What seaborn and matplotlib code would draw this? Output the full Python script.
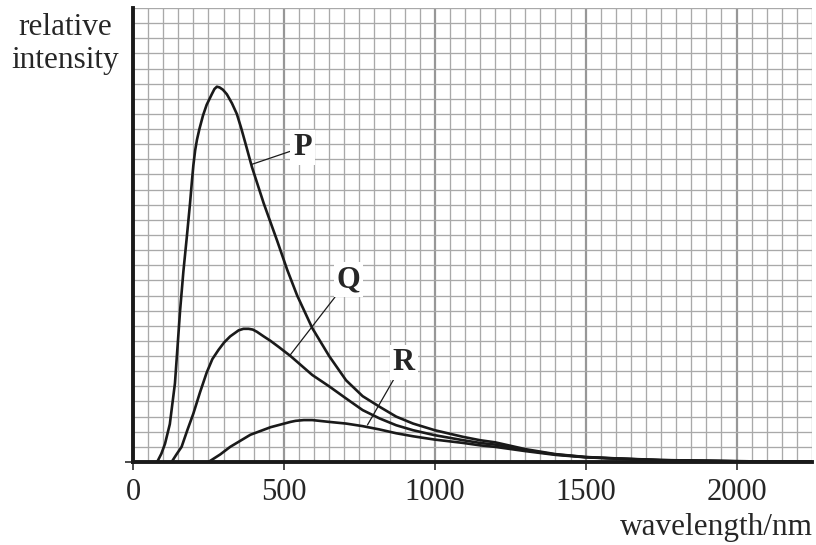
import matplotlib
matplotlib.use('Agg')
import numpy as np
import pandas as pd
import seaborn as sns
from matplotlib import pyplot as plt
from matplotlib.ticker import MultipleLocator

# %% Data (wavelength in nm, relative intensity in grid units)
P_wl = [80, 94, 106, 122, 139, 156, 167, 178, 189, 195, 200, 206, 212, 220, 232,
        244, 261, 270, 278, 287, 298, 311, 328, 344, 358, 372, 394, 433, 478,
        511, 544, 594, 650, 706, 761, 817, 872, 928, 1000, 1094, 1150, 1200,
        1300, 1400, 1500, 1600, 1750, 2000, 2250]
P_int = [0, 0.055, 0.12, 0.25, 0.52, 1.0, 1.26, 1.48, 1.71, 1.85, 1.96, 2.06,
         2.13, 2.2, 2.29, 2.36, 2.43, 2.465, 2.48, 2.475, 2.46, 2.43, 2.37, 2.3,
         2.21, 2.11, 1.95, 1.71, 1.46, 1.27, 1.10, 0.885, 0.70, 0.54, 0.435,
         0.365, 0.30, 0.254, 0.21, 0.166, 0.144, 0.13, 0.085, 0.052, 0.033,
         0.024, 0.013, 0.005, 0.002]

Q_wl = [128, 144, 161, 180, 200, 222, 244, 263, 283, 302, 322, 350, 366, 383,
        397, 411, 433, 456, 483, 522, 594, 650, 706, 761, 817, 872, 928, 1000,
        1094, 1150, 1200, 1300, 1400, 1500, 1600, 1750, 2000, 2250]
Q_int = [0, 0.05, 0.10, 0.21, 0.32, 0.46, 0.59, 0.68, 0.74, 0.79, 0.83, 0.87,
         0.88, 0.88, 0.875, 0.86, 0.83, 0.80, 0.76, 0.70, 0.575, 0.50, 0.42,
         0.343, 0.288, 0.243, 0.21, 0.177, 0.144, 0.126, 0.115, 0.078, 0.05,
         0.032, 0.023, 0.012, 0.005, 0.002]

R_wl = [250, 289, 322, 389, 456, 522, 539, 566, 594, 650, 706, 761, 817, 872,
        928, 1000, 1094, 1150, 1200, 1300, 1400, 1500, 1600, 1750, 2000, 2250]
R_int = [0, 0.05, 0.10, 0.18, 0.23, 0.265, 0.272, 0.277, 0.277, 0.265, 0.254,
         0.237, 0.215, 0.19, 0.17, 0.148, 0.126, 0.11, 0.10, 0.072, 0.047,
         0.031, 0.022, 0.012, 0.005, 0.002]

curve_names = ['P', 'Q', 'R']
label_pos = {'P': (561, 2.08), 'Q': (714, 1.205), 'R': (897, 0.66)}
leader_end = {'P': (394, 1.967), 'Q': (522, 0.71), 'R': (777, 0.245)}

dfCurves = pd.concat([
    pd.DataFrame({'wavelength': P_wl, 'intensity': P_int, 'curve': 'P'}),
    pd.DataFrame({'wavelength': Q_wl, 'intensity': Q_int, 'curve': 'Q'}),
    pd.DataFrame({'wavelength': R_wl, 'intensity': R_int, 'curve': 'R'}),
], ignore_index=True)

# %% Style
sns.set_style('white')
plt.rcParams['font.family'] = ['Liberation Serif', 'DejaVu Serif']

fig = plt.figure(figsize=(8.16, 5.45), dpi=100)
ax = fig.add_axes([133 / 816, 83 / 545, 679 / 816, 454 / 545])

# graph paper grid
ax.set_xlim(0, 2250)
ax.set_ylim(0, 3)
ax.xaxis.set_major_locator(MultipleLocator(500))
ax.xaxis.set_minor_locator(MultipleLocator(50))
ax.yaxis.set_major_locator(MultipleLocator(1))
ax.yaxis.set_minor_locator(MultipleLocator(0.1))
ax.grid(which='minor', color='#a9a9a9', linewidth=0.95)
ax.grid(which='major', color='#979797', linewidth=1.6)
ax.set_axisbelow(True)

# %% Curves
for name in curve_names:
    sns.lineplot(data=dfCurves.query("curve == @name"),
                 x='wavelength', y='intensity',
                 ax=ax, color='#1a1a1a', linewidth=1.9,
                 sort=False, estimator=None, legend=False)

for name in curve_names:
    ax.annotate(name, xy=leader_end[name], xytext=label_pos[name],
                fontsize=22, fontweight='bold', ha='center', va='center',
                bbox=dict(boxstyle='square,pad=0.1', fc='white', ec='none'),
                arrowprops=dict(arrowstyle='-', color='#1a1a1a', lw=0.9,
                                shrinkA=0, shrinkB=0))

# %% Axes
for side in ['top', 'right']:
    ax.spines[side].set_visible(False)
for side in ['left', 'bottom']:
    ax.spines[side].set_color('#1a1a1a')
    ax.spines[side].set_linewidth(2.8)
    ax.spines[side].set_zorder(5)

ax.set_xticks([0, 500, 1000, 1500, 2000])
ax.set_yticks([0])
ax.set_yticklabels([''])
ax.tick_params(axis='x', which='major', length=5.5, width=1.1, color='#1a1a1a',
               labelsize=22, pad=6, direction='out', bottom=True)
ax.tick_params(axis='y', which='major', length=5.5, width=1.1, color='#1a1a1a',
               direction='out', left=True)
ax.tick_params(which='minor', length=0)
ax.set_xlabel('')
ax.set_ylabel('')

fig.text(65 / 816, 1 - 35 / 545, 'relative', fontsize=22.5, ha='center', va='baseline')
fig.text(65 / 816, 1 - 68 / 545, 'intensity', fontsize=22.5, ha='center', va='baseline')
fig.text(813 / 816, 1 - 535 / 545, 'wavelength/nm', fontsize=22.5, ha='right', va='baseline')

fig.savefig('out.png', dpi=100)
